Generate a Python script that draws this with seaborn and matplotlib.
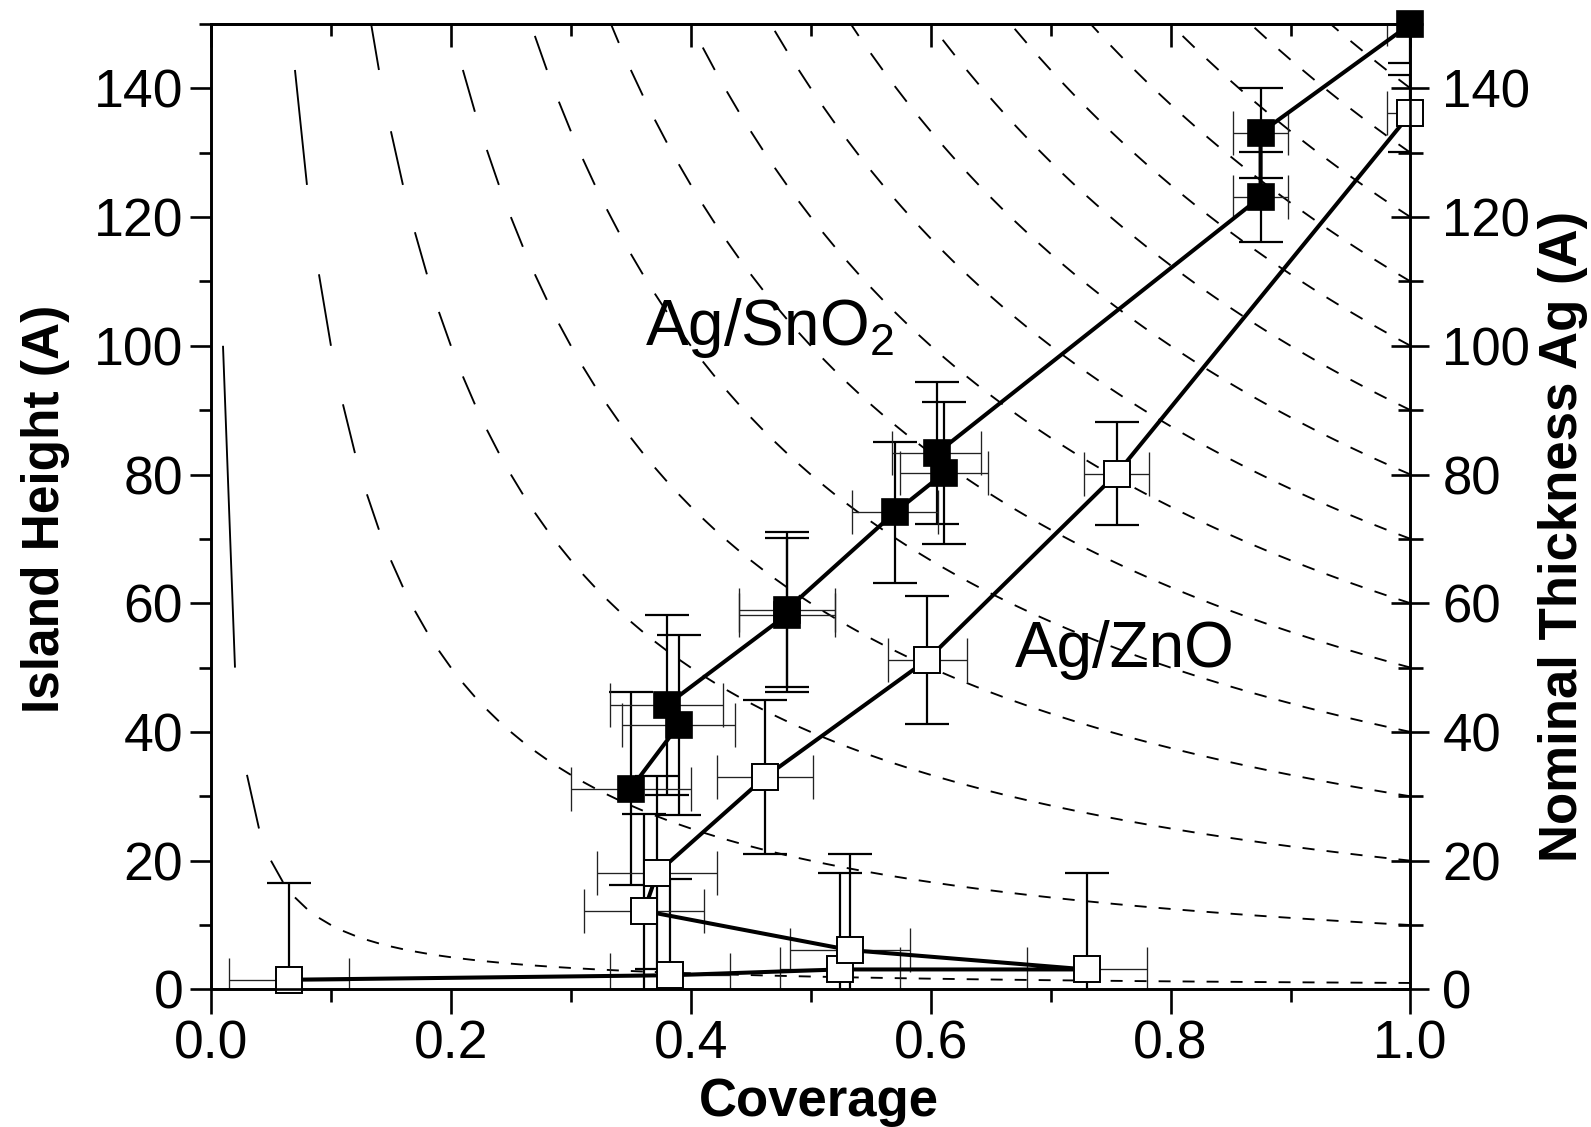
import numpy as np
import pandas as pd
import matplotlib
matplotlib.use("Agg")
import matplotlib.pyplot as plt
import seaborn as sns

# ---------------- data ----------------
# Ag/SnO2 (filled squares), in the order the line connects them
sno2_coverage = [0.350, 0.390, 0.380, 0.480, 0.480, 0.570, 0.611, 0.605, 0.875, 0.875, 1.000]
sno2_height = [31.2, 41.1, 44.2, 58.2, 59.0, 74.1, 80.2, 83.3, 123.1, 133.1, 150.0]
sno2_height_err = [15, 14, 14, 12, 12, 11, 11, 11, 7, 7, 6]
sno2_coverage_err = [0.050, 0.047, 0.047, 0.040, 0.040, 0.036, 0.037, 0.037, 0.023, 0.023, 0.020]

# Ag/ZnO (open squares), in the order the line connects them
zno_coverage = [0.065, 0.383, 0.524, 0.730, 0.533, 0.361, 0.372, 0.462, 0.597, 0.755, 1.000]
zno_height = [1.5, 2.2, 3.1, 3.1, 6.1, 12.2, 18.1, 33.0, 51.2, 80.1, 136.1]
zno_height_err = [15, 15, 15, 15, 15, 15, 15, 12, 10, 8, 6]
zno_coverage_err = [0.050, 0.050, 0.050, 0.050, 0.050, 0.050, 0.050, 0.040, 0.033, 0.027, 0.020]

# nominal thickness iso-lines (height = thickness / coverage)
thickness_levels = [1, 10, 20, 30, 40, 50, 60, 70, 80, 90, 100, 110, 120, 130, 140]

x_ticks = [0.0, 0.2, 0.4, 0.6, 0.8, 1.0]
x_ticklabels = ["0.0", "0.2", "0.4", "0.6", "0.8", "1.0"]
y_ticks = [0, 20, 40, 60, 80, 100, 120, 140]
y_ticklabels = ["0", "20", "40", "60", "80", "100", "120", "140"]

# ---------------- style ----------------
sns.set_style("ticks")
plt.rcParams["font.family"] = ["Liberation Sans", "DejaVu Sans"]
plt.rcParams["mathtext.default"] = "regular"
plt.rcParams["axes.linewidth"] = 1.9
for key in ["text.color", "axes.labelcolor", "xtick.color", "ytick.color", "axes.edgecolor",
            "xtick.labelcolor", "ytick.labelcolor"]:
    plt.rcParams[key] = "black"

W, H = 1591, 1127
fig = plt.figure(figsize=(W / 100, H / 100), dpi=100)
ax = fig.add_axes([211 / W, 1 - 989.4 / H, 1199.5 / W, 965.4 / H])

# iso-thickness curves, sampled every 0.01 in coverage, every other segment drawn
step = 0.01
for t in thickness_levels:
    xs, ys = [], []
    for k in range(50):
        c1 = step * (2 * k + 1)
        c2 = step * (2 * k + 2)
        xs += [c1, c2, np.nan]
        ys += [t / c1, t / c2, np.nan]
    ax.plot(xs, ys, color="black", lw=1.35, zorder=1, solid_capstyle="butt")

# error bars
for cov, h, herr, cerr in [
    (sno2_coverage, sno2_height, sno2_height_err, sno2_coverage_err),
    (zno_coverage, zno_height, zno_height_err, zno_coverage_err),
]:
    ax.errorbar(cov, h, yerr=herr, fmt="none", ecolor="black", elinewidth=1.6,
                capsize=15.7, capthick=1.6, zorder=2)
    ax.errorbar(cov, h, xerr=cerr, fmt="none", ecolor="#222222", elinewidth=0.95,
                capsize=15.7, capthick=0.95, zorder=2)

df_sno2 = pd.DataFrame({"coverage": sno2_coverage, "height": sno2_height})
df_zno = pd.DataFrame({"coverage": zno_coverage, "height": zno_height})

sns.lineplot(data=df_sno2, x="coverage", y="height", sort=False, estimator=None,
             color="black", lw=2.9, marker="s", markersize=18.5, markerfacecolor="black",
             markeredgecolor="black", markeredgewidth=1.2, ax=ax, zorder=4, clip_on=False)
sns.lineplot(data=df_zno, x="coverage", y="height", sort=False, estimator=None,
             color="black", lw=2.9, marker="s", markersize=18.5, markerfacecolor="white",
             markeredgecolor="black", markeredgewidth=1.4, ax=ax, zorder=4, clip_on=False)

ax.set_xlim(0, 1.0)
ax.set_ylim(0, 150)
ax.set_xlabel("")
ax.set_ylabel("")

ax.set_xticks(x_ticks)
ax.set_xticklabels(x_ticklabels)
ax.set_yticks(y_ticks)
ax.set_yticklabels(y_ticklabels)
ax.set_xticks(np.arange(0.1, 1.0, 0.2), minor=True)
ax.set_yticks(np.arange(10, 151, 20), minor=True)
ax.tick_params(axis="x", which="major", direction="out", length=18, width=1.9,
               labelsize=38.5, pad=4, colors="black")
ax.tick_params(axis="x", which="minor", direction="out", length=9.5, width=1.9, colors="black")
ax.tick_params(axis="y", which="major", direction="out", length=15, width=1.9,
               labelsize=38.5, pad=5, colors="black")
ax.tick_params(axis="y", which="minor", direction="out", length=8.5, width=1.9, colors="black")
for sp in ax.spines.values():
    sp.set_visible(True)
    sp.set_linewidth(1.9)
    sp.set_color("black")

# top axis: ticks pointing inward, no labels
top = ax.secondary_xaxis("top")
top.set_xticks(x_ticks)
top.set_xticks(np.arange(0.1, 1.0, 0.2), minor=True)
top.tick_params(axis="x", which="major", direction="in", length=16.5, width=1.9,
                labeltop=False, labelbottom=False, colors="black")
top.tick_params(axis="x", which="minor", direction="in", length=8.5, width=1.9, colors="black")
top.spines["top"].set_linewidth(1.9)
top.spines["top"].set_color("black")

# right axis: nominal thickness
axr = ax.twinx()
axr.set_ylim(0, 150)
axr.set_yticks(y_ticks)
axr.set_yticklabels(y_ticklabels)
axr.set_yticks(np.arange(10, 151, 20), minor=True)
axr.tick_params(axis="y", which="major", direction="inout", length=27, width=1.9,
                labelsize=38, pad=9.5, colors="black")
axr.tick_params(axis="y", which="minor", direction="inout", length=18, width=1.9, colors="black")
for sp in axr.spines.values():
    sp.set_linewidth(1.9)
    sp.set_color("black")

# annotations
ax.text(0.362, 100.1, "Ag/SnO$_2$", fontsize=46, ha="left", va="baseline", zorder=5,
        color="black")
ax.text(0.670, 50.1, "Ag/ZnO", fontsize=46, ha="left", va="baseline", zorder=5, color="black")

# axis titles
fig.text(819 / W, 1 - 1116 / H, "Coverage", fontsize=38, fontweight="bold",
         ha="center", va="baseline", color="black")
fig.text(46 / W, 1 - 509 / H, "Island Height (A)", fontsize=37, fontweight="bold",
         rotation=90, ha="center", va="center", color="black")
fig.text(1563 / W, 1 - 536 / H, "Nominal Thickness Ag (A)", fontsize=38, fontweight="bold",
         rotation=90, ha="center", va="center", color="black")

fig.savefig("out.png", dpi=100)
